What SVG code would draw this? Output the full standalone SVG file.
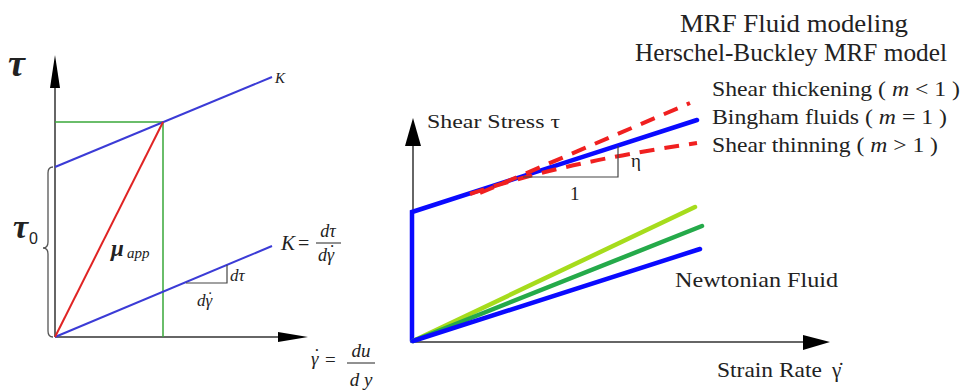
<svg xmlns="http://www.w3.org/2000/svg" width="964" height="392" viewBox="0 0 964 392">
<style>
.ax{stroke:#333;stroke-width:1.5;fill:none}
.ah{fill:#000;stroke:none}
.bl{stroke:#3b3bd6;stroke-width:2;fill:none}
.rd{stroke:#e02424;stroke-width:2;fill:none}
.gr{stroke:#3aa83a;stroke-width:1.5;fill:none}
.thin{stroke:#444;stroke-width:1.2;fill:none}
.t{font-family:"Liberation Serif","Times New Roman",serif;fill:#222}
.i{font-style:italic}
.b{font-weight:bold}
.B{stroke:#0a0aff;stroke-width:4.5;fill:none;stroke-linecap:round}
.dash{stroke:#f02020;stroke-width:4;fill:none;stroke-dasharray:15 10}
</style>
<rect width="964" height="392" fill="#fff"/>

<!-- Left diagram -->
<g id="left-axes">
  <line class="ax" x1="55" y1="337" x2="55" y2="80"/>
  <polygon class="ah" points="55,55 50,88 60,88"/>
  <line class="ax" x1="55" y1="337" x2="282" y2="337"/>
  <polygon class="ah" points="308,337 278,332 278,342"/>
</g>
<g id="left-curves">
  <polyline class="gr" points="55,122 163,122 163,337"/>
  <line class="bl" x1="55" y1="167" x2="272" y2="77"/>
  <line class="bl" x1="55" y1="337" x2="272" y2="246"/>
  <line class="rd" x1="55" y1="337" x2="163" y2="122"/>
  <polyline class="thin" points="186,283 227,283 227,265"/>
  <path d="M53,167 Q48,167 48,173 L48,242 Q48,248 43,248 Q48,248 48,254 L48,331 Q48,337 53,337" stroke="#555" stroke-width="1.3" fill="none"/>
</g>
<g id="left-labels">
  <text class="t i b" x="8" y="76" font-size="38">τ</text>
  <text class="t i" x="275" y="83" font-size="15">K</text>
  <text class="t i b" x="13" y="238" font-size="34">τ</text>
  <text x="29" y="244" font-size="16" font-family="Liberation Sans, Arial, sans-serif" fill="#222">0</text>
  <text class="t i b" x="111" y="256" font-size="23">μ</text>
  <text class="t i" x="127" y="258" font-size="15">app</text>
  <text class="t i" x="281" y="250" font-size="21">K</text>
  <text class="t" x="298" y="250" font-size="20">=</text>
  <text class="t i" x="328" y="237" font-size="18" text-anchor="middle">dτ</text>
  <line x1="316" y1="243" x2="341" y2="243" stroke="#222" stroke-width="1"/>
  <text class="t i" x="318" y="261" font-size="18">dγ<tspan dx="-6" dy="-3">˙</tspan></text>
  <text class="t i" x="230" y="281" font-size="17">dτ</text>
  <text class="t i" x="197" y="306" font-size="17">dγ<tspan dx="-6" dy="-3">˙</tspan></text>
  <text class="t i" x="311" y="365" font-size="19">γ<tspan dx="-6" dy="-3">˙</tspan></text>
  <text class="t" x="325" y="366" font-size="19">=</text>
  <text class="t i" x="361" y="357" font-size="19" text-anchor="middle">du</text>
  <line x1="347" y1="363" x2="375" y2="363" stroke="#222" stroke-width="1"/>
  <text class="t i" x="361" y="386" font-size="19" text-anchor="middle">d y</text>
</g>

<!-- Right diagram -->
<g id="right-axes">
  <line class="ax" x1="413" y1="342" x2="413" y2="140"/>
  <polygon class="ah" points="413,118 405,146 421,146"/>
  <line class="ax" x1="413" y1="342" x2="806" y2="342"/>
  <polygon class="ah" points="830,342 803,335 803,350"/>
</g>
<g id="bingham">
  <polyline class="B" points="412,341 412,212 697,120" stroke-linejoin="miter"/>
  <line class="dash" x1="480" y1="193" x2="690" y2="103"/>
  <path class="dash" d="M470,194 Q560,163 697,143"/>
  <polyline class="thin" points="523,177 618,177 618,146"/>
</g>
<g id="newtonian">
  <line x1="413" y1="341" x2="695" y2="207" stroke="#a6dc1c" stroke-width="4.5" stroke-linecap="round"/>
  <line x1="413" y1="341" x2="702" y2="226" stroke="#25aa4a" stroke-width="4.5" stroke-linecap="round"/>
  <line x1="413" y1="341" x2="700" y2="249" stroke="#0a0aff" stroke-width="4.5" stroke-linecap="round"/>
</g>
<g id="right-labels">
  <text class="t" x="680" y="32" font-size="25" textLength="228" lengthAdjust="spacingAndGlyphs">MRF Fluid modeling</text>
  <text class="t" x="635" y="61" font-size="25" textLength="312" lengthAdjust="spacingAndGlyphs">Herschel-Buckley MRF model</text>
  <text class="t" x="712" y="96" font-size="21" textLength="248" lengthAdjust="spacingAndGlyphs">Shear thickening ( <tspan class="i">m</tspan> &lt; 1 )</text>
  <text class="t" x="712" y="124" font-size="21" textLength="235" lengthAdjust="spacingAndGlyphs">Bingham fluids ( <tspan class="i">m</tspan> = 1 )</text>
  <text class="t" x="712" y="152" font-size="21" textLength="226" lengthAdjust="spacingAndGlyphs">Shear thinning ( <tspan class="i">m</tspan> &gt; 1 )</text>
  <text class="t" x="427" y="128" font-size="19" textLength="133" lengthAdjust="spacingAndGlyphs">Shear Stress τ</text>
  <text class="t" x="570" y="200" font-size="19">1</text>
  <text class="t" x="631" y="167" font-size="19">η</text>
  <text class="t" x="675" y="287" font-size="22" textLength="163" lengthAdjust="spacingAndGlyphs">Newtonian Fluid</text>
  <text class="t" x="717" y="377" font-size="21"><tspan textLength="105" lengthAdjust="spacingAndGlyphs">Strain Rate</tspan><tspan x="832">γ̇</tspan></text>
</g>
</svg>
